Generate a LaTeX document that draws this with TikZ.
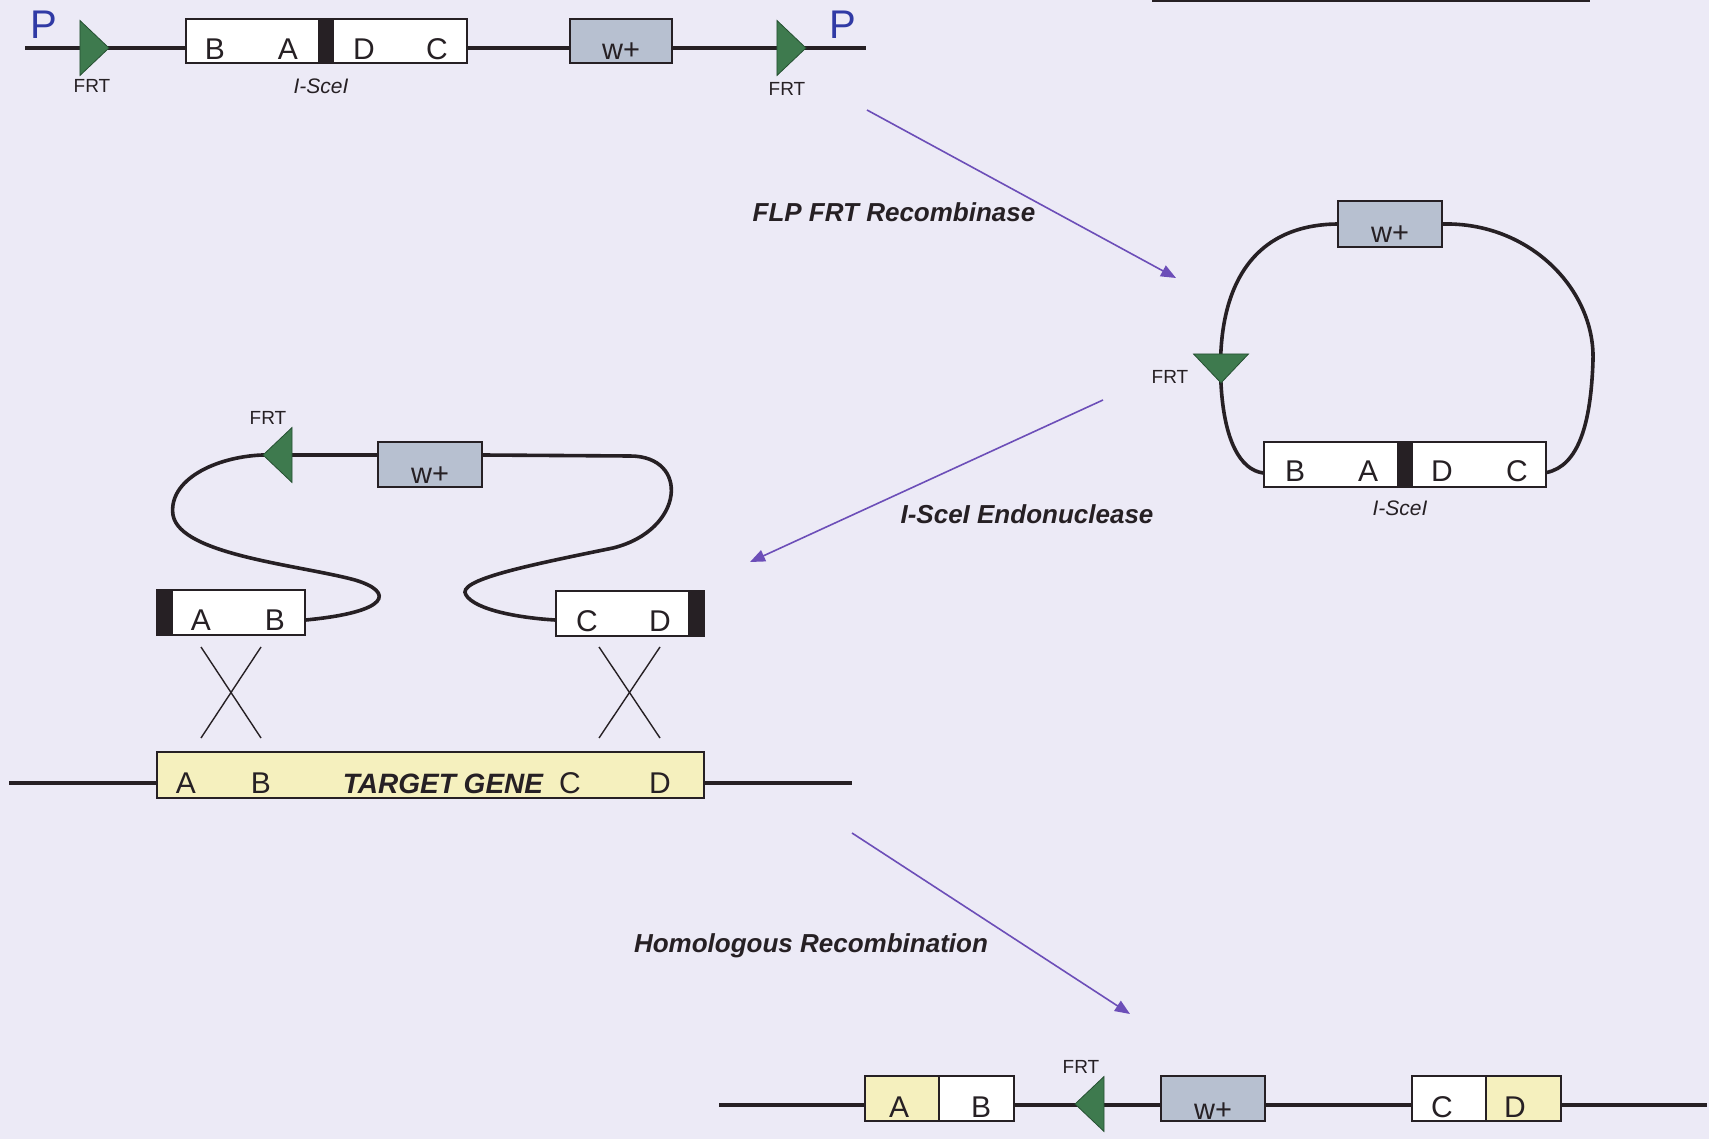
\documentclass[tikz,border=0pt]{standalone}
\usepackage{fontspec}
\setmainfont{Liberation Sans}
\usetikzlibrary{shapes.geometric, arrows.meta, backgrounds}
\definecolor{paper}{RGB}{236,234,246}
\definecolor{ink}{RGB}{38,32,36}
\definecolor{wfill}{RGB}{183,192,208}
\definecolor{genefill}{RGB}{245,240,190}
\definecolor{frtgreen}{RGB}{62,122,78}
\definecolor{frtdark}{RGB}{38,80,50}
\definecolor{arrowpurple}{RGB}{108,78,184}
\definecolor{promblue}{RGB}{48,58,165}

\begin{document}
\begin{tikzpicture}[
  x=1pt, y=-1pt,
  seg/.style={draw=ink, line width=1.3pt, fill=white, inner sep=0pt, minimum height=45pt},
  wbox/.style={seg, fill=wfill, minimum width=104pt},
  site/.style={fill=ink, inner sep=0pt, minimum width=16pt},
  frt/.style={isosceles triangle, isosceles triangle stretches, fill=frtgreen, draw=frtdark, line width=0.8pt,
              inner sep=0pt, minimum width=55pt, minimum height=29pt, anchor=apex},
  lettr/.style={anchor=base, text=ink, font=\fontsize{30}{30}\selectfont},
  wtxt/.style={anchor=base, text=ink, font=\fontsize{29}{29}\selectfont},
  frtlbl/.style={text=ink, font=\fontsize{19}{19}\selectfont},
  sitelbl/.style={text=ink, font=\fontsize{21}{21}\selectfont\itshape},
  prom/.style={text=promblue, font=\fontsize{40}{40}\selectfont},
  steplbl/.style={text=ink, font=\fontsize{26}{26}\selectfont\bfseries\itshape},
  dna/.style={draw=ink, line width=3.6pt},
  recomb/.style={draw=arrowpurple, line width=1.6pt, -{Triangle[length=15pt, width=12pt]}},
  cross/.style={draw=ink, line width=1.4pt}
]
\useasboundingbox (0,0) rectangle (1709,1139);

% donor construct
\node[prom] (p1) at (44,25) {P};
\node[frt] (frt1) at (110,48) {};
\node[frtlbl] (frt1l) at (92,86) {FRT};
\node[seg, minimum width=281pt, minimum height=44pt] (don) at (326.5,41) {};
\node[site, minimum height=44pt] (site1) at (326,41) {};
\node[lettr] (donB) at (215,60) {B};
\node[lettr] (donA) at (288,60) {A};
\node[lettr] (donD) at (364,60) {D};
\node[lettr] (donC) at (437,60) {C};
\node[sitelbl] (site1l) at (321,86) {I-SceI};
\node[wbox, minimum width=102pt, minimum height=44pt] (w1) at (621,41) {};
\node[wtxt] (w1t) at (621,60) {w+};
\node[frt] (frt2) at (807,48) {};
\node[frtlbl] (frt2l) at (787,89) {FRT};
\node[prom] (p2) at (843,25) {P};
\coordinate (l0) at (25,48);
\coordinate (r0) at (866,48);
\coordinate (edgeL) at (1152,1);
\coordinate (edgeR) at (1590,1);

% excised circle
\node[wbox, minimum height=46pt] (w2) at (1390,224) {};
\node[wtxt] (w2t) at (1390,243) {w+};
\node[frt, rotate=-90] (frt3) at (1221,384) {};
\node[frtlbl] (frt3l) at (1170,377) {FRT};
\node[seg, minimum width=282pt] (circ) at (1405,464.5) {};
\node[site, minimum height=45pt] (site2) at (1405,464.5) {};
\node[lettr] (circB) at (1295,482) {B};
\node[lettr] (circA) at (1368,482) {A};
\node[lettr] (circD) at (1442,482) {D};
\node[lettr] (circC) at (1517,482) {C};
\node[sitelbl] (site2l) at (1400,508) {I-SceI};

% linear targeting fragment
\node[frt, rotate=180] (frt4) at (262,455) {};
\node[frtlbl] (frt4l) at (268,418) {FRT};
\node[wbox] (w3) at (430,464.5) {};
\node[wtxt] (w3t) at (430,484) {w+};
\node[seg, minimum width=148pt] (ab) at (231,612.5) {};
\node[site, minimum height=45pt] (cutL) at (165,612.5) {};
\node[lettr] (abA) at (201,630) {A};
\node[lettr] (abB) at (275,630) {B};
\node[seg, minimum width=148pt] (cd) at (630,613.5) {};
\node[site, minimum height=45pt] (cutR) at (696,613.5) {};
\node[lettr] (cdC) at (587,631) {C};
\node[lettr] (cdD) at (660,631) {D};
\coordinate (xl1) at (201,647);
\coordinate (xl2) at (261,738);
\coordinate (xl3) at (261,647);
\coordinate (xl4) at (201,738);
\coordinate (xr1) at (599,647);
\coordinate (xr2) at (660,738);
\coordinate (xr3) at (660,647);
\coordinate (xr4) at (599,738);

% target locus
\node[seg, fill=genefill, minimum width=547pt, minimum height=46pt] (tg) at (430.5,775) {};
\node[lettr] (tgA) at (186,793) {A};
\node[lettr] (tgB) at (261,793) {B};
\node[anchor=base, text=ink, font=\fontsize{28}{28}\selectfont\bfseries\itshape] (tgname) at (443,793) {TARGET GENE};
\node[lettr] (tgC) at (570,793) {C};
\node[lettr] (tgD) at (660,793) {D};
\coordinate (tl) at (9,783);
\coordinate (tr) at (852,783);

% recombined locus
\node[seg, fill=genefill, minimum width=74pt] (reA) at (902,1098.5) {};
\node[seg, minimum width=75pt] (reB) at (976.5,1098.5) {};
\node[lettr] (reAt) at (899,1117) {A};
\node[lettr] (reBt) at (981,1117) {B};
\node[frt, rotate=180] (frt5) at (1074,1104) {};
\node[frtlbl] (frt5l) at (1081,1067) {FRT};
\node[wbox] (w4) at (1213,1098.5) {};
\node[wtxt] (w4t) at (1213,1119) {w+};
\node[seg, minimum width=74pt] (reC) at (1449,1098.5) {};
\node[seg, fill=genefill, minimum width=75pt] (reD) at (1523.5,1098.5) {};
\node[lettr] (reCt) at (1442,1117) {C};
\node[lettr] (reDt) at (1515,1117) {D};
\coordinate (bl) at (719,1105);
\coordinate (br) at (1707,1105);

% steps
\coordinate (s1a) at (867,110);
\coordinate (s1b) at (1176,278);
\node[steplbl] (flp) at (894,212) {FLP FRT Recombinase};
\coordinate (s2a) at (1103,400);
\coordinate (s2b) at (750,562);
\node[steplbl] (scel) at (1027,514) {I-SceI Endonuclease};
\coordinate (s3a) at (852,833);
\coordinate (s3b) at (1130,1014);
\node[steplbl] (homr) at (811,946) {Homologous Recombination};

\draw[recomb] (s1a) -- (s1b);
\draw[recomb] (s2a) -- (s2b);
\draw[recomb] (s3a) -- (s3b);
\draw[cross] (xl1) -- (xl2);
\draw[cross] (xl3) -- (xl4);
\draw[cross] (xr1) -- (xr2);
\draw[cross] (xr3) -- (xr4);

\begin{scope}[on background layer]
\fill[paper] (0,0) rectangle (1709,1139);
\draw[draw=ink, line width=3pt] (edgeL) -- (edgeR);
\draw[dna] (l0) -- (r0);
\draw[dna] (tl) -- (tr);
\draw[dna] (bl) -- (br);
\draw[dna] (w2.west) .. controls (1250,225) and (1216,290) .. (frt3.apex)
  .. controls (1224,440) and (1240,470) .. ([yshift=-8.5pt]circ.west);
\draw[dna] (w2.east) .. controls (1530,222) and (1595,290) .. (1593,360)
  .. controls (1591,425) and (1578,466) .. ([yshift=-8pt]circ.east);
\draw[dna] (frt4.apex) .. controls (215,457) and (168,480) .. (173,515)
  .. controls (180,555) and (300,565) .. (355,580)
  .. controls (395,592) and (390,612) .. ([yshift=-7.5pt]ab.east);
\draw[dna] (frt4.apex) -- (w3.east |- frt4.apex) -- (630,456)
  .. controls (690,456) and (685,530) .. (613,548)
  .. controls (530,565) and (455,580) .. (466,595)
  .. controls (475,610) and (520,618) .. ([yshift=-6.5pt]cd.west);
\end{scope}
\end{tikzpicture}
\end{document}
